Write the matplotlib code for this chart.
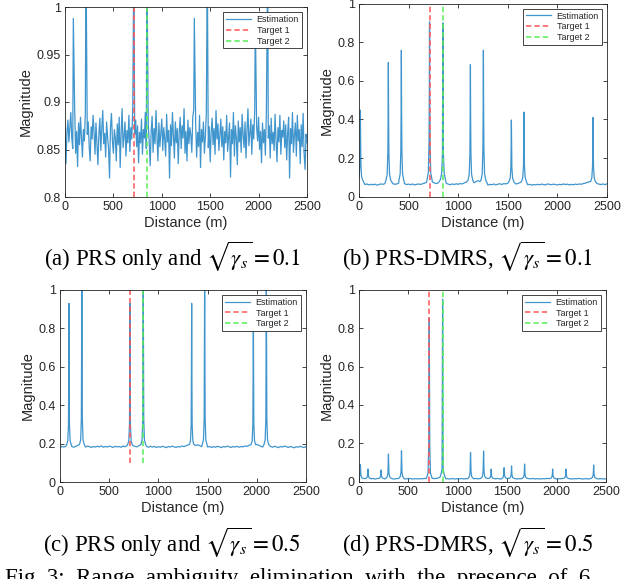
import numpy as np
import matplotlib.pyplot as plt
from matplotlib.ticker import FormatStrFormatter

plt.rcParams['font.family'] = ['Liberation Sans', 'DejaVu Sans']
plt.rcParams['mathtext.fontset'] = 'stix'

# ---------- DATA ----------
targets = [711, 846]
target_span = [(0.8, 1.0), (0.0, 1.0), (0.1, 1.0), (0.0, 1.0)]

# (a) PRS only, sqrt(gamma_s) = 0.1 : noisy floor sampled every 10 m
a_base = [
    0.872, 0.835, 0.868, 0.881, 0.858, 0.874, 0.889, 0.862, 0.851, 0.877,
    0.893, 0.846, 0.869, 0.832, 0.878, 0.855, 0.884, 0.864, 0.842, 0.871,
    0.859, 0.887, 0.848, 0.866, 0.879, 0.853, 0.838, 0.874, 0.861, 0.886,
    0.869, 0.845, 0.878, 0.857, 0.834, 0.866, 0.883, 0.849, 0.872, 0.891,
    0.856, 0.867, 0.842, 0.879, 0.863, 0.851, 0.820, 0.874, 0.888, 0.859,
    0.846, 0.871, 0.862, 0.838, 0.877, 0.855, 0.884, 0.831, 0.868, 0.893,
    0.852, 0.864, 0.879, 0.843, 0.870, 0.857, 0.886, 0.848, 0.873, 0.861,
    0.894, 0.839, 0.866, 0.881, 0.853, 0.875, 0.836, 0.868, 0.857, 0.882,
    0.845, 0.871, 0.862, 0.889, 0.851, 0.844, 0.877, 0.858, 0.833, 0.869,
    0.885, 0.847, 0.872, 0.856, 0.891, 0.864, 0.838, 0.878, 0.853, 0.867,
    0.882, 0.849, 0.873, 0.861, 0.843, 0.887, 0.858, 0.870, 0.820, 0.876,
    0.854, 0.889, 0.866, 0.841, 0.879, 0.857, 0.872, 0.835, 0.868, 0.884,
    0.851, 0.875, 0.862, 0.893, 0.846, 0.869, 0.838, 0.881, 0.856, 0.873,
    0.865, 0.847, 0.884, 0.892, 0.859, 0.877, 0.842, 0.868, 0.853, 0.886,
    0.831, 0.871, 0.858, 0.879, 0.846, 0.863, 0.889, 0.894, 0.852, 0.874,
    0.837, 0.868, 0.883, 0.855, 0.872, 0.845, 0.891, 0.861, 0.877, 0.849,
    0.866, 0.882, 0.853, 0.874, 0.839, 0.869, 0.857, 0.886, 0.848, 0.863,
    0.878, 0.821, 0.871, 0.856, 0.889, 0.843, 0.875, 0.862, 0.834, 0.880,
    0.858, 0.873, 0.847, 0.887, 0.865, 0.852, 0.879, 0.841, 0.870, 0.893,
    0.854, 0.867, 0.882, 0.845, 0.876, 0.861, 0.892, 0.838, 0.873, 0.859,
    0.884, 0.850, 0.869, 0.836, 0.878, 0.857, 0.871, 0.844, 0.888, 0.892,
    0.862, 0.875, 0.841, 0.883, 0.856, 0.868, 0.849, 0.887, 0.860, 0.837,
    0.873, 0.858, 0.886, 0.845, 0.870, 0.863, 0.880, 0.852, 0.876, 0.839,
    0.867, 0.884, 0.820, 0.872, 0.856, 0.889, 0.847, 0.865, 0.878, 0.843,
    0.886, 0.859, 0.871, 0.835, 0.876, 0.853, 0.888, 0.846, 0.829, 0.866,
    0.857,
]
a_peak_pos = [86, 217, 711, 846, 1336, 1470, 1966, 2094]
a_offsets = [0]
a_peak_shapes = [[0.988], [1.05], [1.05], [1.05], [0.988], [1.05], [0.988], [1.05]]

# (b) PRS-DMRS, sqrt(gamma_s) = 0.1 : floor sampled every 20 m
b_base = [
    0.080, 0.070, 0.066, 0.063, 0.066, 0.061, 0.064, 0.062, 0.065, 0.060,
    0.063, 0.066, 0.064, 0.067, 0.070, 0.075, 0.073, 0.068, 0.064, 0.066,
    0.070, 0.075, 0.072, 0.067, 0.063, 0.065, 0.062, 0.066, 0.061, 0.064,
    0.066, 0.063, 0.067, 0.070, 0.074, 0.078, 0.085, 0.076, 0.071, 0.068,
    0.072, 0.080, 0.090, 0.078, 0.069, 0.065, 0.062, 0.066, 0.063, 0.067,
    0.064, 0.068, 0.066, 0.071, 0.075, 0.080, 0.076, 0.070, 0.072, 0.078,
    0.083, 0.078, 0.070, 0.066, 0.063, 0.060, 0.064, 0.062, 0.066, 0.061,
    0.065, 0.067, 0.063, 0.068, 0.066, 0.070, 0.072, 0.075, 0.070, 0.066,
    0.068, 0.072, 0.076, 0.070, 0.065, 0.062, 0.064, 0.060, 0.063, 0.061,
    0.064, 0.062, 0.065, 0.063, 0.061, 0.066, 0.064, 0.062, 0.065, 0.063,
    0.061, 0.064, 0.062, 0.066, 0.063, 0.065, 0.061, 0.064, 0.062, 0.065,
    0.063, 0.066, 0.064, 0.068, 0.070, 0.074, 0.077, 0.080, 0.078, 0.072,
    0.068, 0.065, 0.063, 0.066, 0.062, 0.067,
]
b_peak_pos = [14, 296, 427, 711, 846, 1123, 1254, 1536, 1663, 2359]
b_offsets = [-24, -12, -5, -2, 0, 2, 5, 12, 24]
b_peak_shapes = [
    [0.085, 0.105, 0.170, 0.300, 0.448, 0.300, 0.170, 0.105, 0.085],
    [0.085, 0.115, 0.230, 0.450, 0.695, 0.450, 0.230, 0.115, 0.085],
    [0.086, 0.118, 0.245, 0.490, 0.758, 0.490, 0.245, 0.118, 0.086],
    [0.090, 0.125, 0.280, 0.560, 0.905, 0.560, 0.280, 0.125, 0.090],
    [0.090, 0.125, 0.220, 0.560, 0.900, 0.560, 0.220, 0.125, 0.090],
    [0.085, 0.115, 0.225, 0.440, 0.684, 0.440, 0.225, 0.115, 0.085],
    [0.086, 0.118, 0.245, 0.490, 0.758, 0.490, 0.245, 0.118, 0.086],
    [0.078, 0.098, 0.150, 0.270, 0.397, 0.270, 0.150, 0.098, 0.078],
    [0.079, 0.100, 0.160, 0.290, 0.438, 0.290, 0.160, 0.100, 0.079],
    [0.078, 0.098, 0.155, 0.275, 0.410, 0.275, 0.155, 0.098, 0.078],
]

# (c) PRS only, sqrt(gamma_s) = 0.5
c_base = [
    0.180, 0.186, 0.183, 0.188, 0.184, 0.190, 0.186, 0.182, 0.187, 0.192,
    0.195, 0.190, 0.186, 0.183, 0.188, 0.185, 0.181, 0.186, 0.183, 0.187,
    0.184, 0.189, 0.182, 0.186, 0.183, 0.188, 0.185, 0.181, 0.187, 0.184,
    0.186, 0.182, 0.188, 0.185, 0.190, 0.193, 0.196, 0.191, 0.187, 0.184,
    0.189, 0.193, 0.198, 0.191, 0.186, 0.182, 0.187, 0.183, 0.186, 0.181,
    0.185, 0.182, 0.187, 0.184, 0.180, 0.186, 0.183, 0.188, 0.184, 0.181,
    0.186, 0.183, 0.189, 0.185, 0.190, 0.194, 0.197, 0.192, 0.188, 0.191,
    0.195, 0.190, 0.185, 0.182, 0.187, 0.183, 0.186, 0.181, 0.185, 0.182,
    0.187, 0.184, 0.180, 0.186, 0.183, 0.188, 0.184, 0.181, 0.186, 0.183,
    0.187, 0.182, 0.186, 0.184, 0.189, 0.186, 0.192, 0.195, 0.190, 0.193,
    0.197, 0.192, 0.187, 0.183, 0.188, 0.184, 0.181, 0.186, 0.182, 0.187,
    0.184, 0.180, 0.186, 0.183, 0.188, 0.185, 0.181, 0.186, 0.183, 0.179,
    0.185, 0.182, 0.187, 0.183, 0.180, 0.186,
]
c_peak_pos = [91, 222, 711, 846, 1338, 1470, 1965, 2097]
c_offsets = [-24, -12, -5, -2, 0, 2, 5, 12, 24]
c_peak_shapes = [
    [0.195, 0.215, 0.300, 0.600, 0.929, 0.600, 0.300, 0.215, 0.195],
    [0.196, 0.220, 0.330, 0.700, 1.050, 0.700, 0.330, 0.220, 0.196],
    [0.195, 0.215, 0.300, 0.600, 0.929, 0.600, 0.300, 0.215, 0.195],
    [0.196, 0.220, 0.330, 0.700, 1.050, 0.700, 0.330, 0.220, 0.196],
    [0.195, 0.215, 0.300, 0.600, 0.929, 0.600, 0.300, 0.215, 0.195],
    [0.196, 0.220, 0.330, 0.700, 1.050, 0.700, 0.330, 0.220, 0.196],
    [0.195, 0.215, 0.300, 0.600, 0.929, 0.600, 0.300, 0.215, 0.195],
    [0.196, 0.220, 0.330, 0.700, 1.050, 0.700, 0.330, 0.220, 0.196],
]

# (d) PRS-DMRS, sqrt(gamma_s) = 0.5
d_base = [
    0.020, 0.017, 0.015, 0.016, 0.014, 0.016, 0.015, 0.017, 0.014, 0.016,
    0.015, 0.017, 0.016, 0.014, 0.016, 0.015, 0.017, 0.015, 0.014, 0.016,
    0.017, 0.015, 0.016, 0.014, 0.015, 0.017, 0.016, 0.014, 0.015, 0.016,
    0.014, 0.016, 0.015, 0.017, 0.016, 0.018, 0.020, 0.018, 0.016, 0.017,
    0.019, 0.021, 0.019, 0.017, 0.015, 0.016, 0.014, 0.016, 0.015, 0.014,
    0.016, 0.015, 0.017, 0.014, 0.016, 0.015, 0.014, 0.016, 0.015, 0.017,
    0.015, 0.016, 0.014, 0.016, 0.015, 0.017, 0.016, 0.014, 0.016, 0.015,
    0.017, 0.015, 0.014, 0.016, 0.015, 0.017, 0.016, 0.014, 0.015, 0.016,
    0.014, 0.016, 0.015, 0.017, 0.015, 0.014, 0.016, 0.015, 0.017, 0.014,
    0.016, 0.015, 0.014, 0.016, 0.015, 0.017, 0.016, 0.014, 0.015, 0.016,
    0.014, 0.016, 0.015, 0.017, 0.015, 0.014, 0.016, 0.015, 0.014, 0.016,
    0.015, 0.017, 0.016, 0.014, 0.015, 0.016, 0.014, 0.016, 0.015, 0.017,
    0.015, 0.014, 0.016, 0.015, 0.014, 0.016,
]
d_peak_pos = [14, 91, 223, 298, 430, 711, 846, 1129, 1261, 1338, 1469, 1544,
              1676, 1960, 2095, 2375]
d_offsets = [-24, -12, -5, -2, 0, 2, 5, 12, 24]
d_peak_shapes = [
    [0.018, 0.022, 0.035, 0.060, 0.090, 0.060, 0.035, 0.022, 0.018],
    [0.017, 0.020, 0.030, 0.045, 0.066, 0.045, 0.030, 0.020, 0.017],
    [0.017, 0.020, 0.029, 0.042, 0.061, 0.042, 0.029, 0.020, 0.017],
    [0.019, 0.026, 0.048, 0.095, 0.144, 0.095, 0.048, 0.026, 0.019],
    [0.019, 0.027, 0.052, 0.105, 0.161, 0.105, 0.052, 0.027, 0.019],
    [0.025, 0.045, 0.200, 0.520, 0.851, 0.520, 0.200, 0.045, 0.025],
    [0.025, 0.048, 0.070, 0.560, 0.950, 0.560, 0.070, 0.048, 0.025],
    [0.019, 0.026, 0.050, 0.100, 0.151, 0.100, 0.050, 0.026, 0.019],
    [0.019, 0.027, 0.052, 0.105, 0.160, 0.105, 0.052, 0.027, 0.019],
    [0.017, 0.020, 0.030, 0.045, 0.066, 0.045, 0.030, 0.020, 0.017],
    [0.017, 0.021, 0.032, 0.049, 0.073, 0.049, 0.032, 0.021, 0.017],
    [0.018, 0.021, 0.034, 0.055, 0.082, 0.055, 0.034, 0.021, 0.018],
    [0.018, 0.022, 0.036, 0.061, 0.092, 0.061, 0.036, 0.022, 0.018],
    [0.017, 0.020, 0.030, 0.045, 0.066, 0.045, 0.030, 0.020, 0.017],
    [0.017, 0.020, 0.030, 0.045, 0.066, 0.045, 0.030, 0.020, 0.017],
    [0.018, 0.022, 0.035, 0.058, 0.087, 0.058, 0.035, 0.022, 0.018],
]

captions = [
    r'(a) PRS only and $\sqrt{\gamma_s} = 0.1$',
    r'(b) PRS-DMRS, $\sqrt{\gamma_s} = 0.1$',
    r'(c) PRS only and $\sqrt{\gamma_s} = 0.5$',
    r'(d) PRS-DMRS, $\sqrt{\gamma_s} = 0.5$',
]
fig_caption = 'Fig. 3:  Range  ambiguity  elimination  with  the  presence  of  6'
x_ticks = [0, 500, 1000, 1500, 2000, 2500]
y_ticks_a = [0.8, 0.85, 0.9, 0.95, 1.0]
y_ticks = [0, 0.2, 0.4, 0.6, 0.8, 1.0]
# --------------------------

W, H = 640, 579
GRAY = '#262626'
EST_COLOR = '#0072BD'


def build_curve(base, peak_pos, offsets, shapes, window):
    bx = np.linspace(0, 2500, len(base))
    by = np.array(base)
    keep = np.ones(len(bx), bool)
    for p in peak_pos:
        keep &= np.abs(bx - p) > window
    xs, ys = [bx[keep]], [by[keep]]
    for p, s in zip(peak_pos, shapes):
        xs.append(p + np.array(offsets, float))
        ys.append(np.array(s))
    x = np.concatenate(xs)
    y = np.concatenate(ys)
    order = np.argsort(x)
    return x[order], y[order]


panels = [
    (a_base, a_peak_pos, a_offsets, a_peak_shapes, 5, (0.8, 1.0), y_ticks_a),
    (b_base, b_peak_pos, b_offsets, b_peak_shapes, 26, (0, 1.0), y_ticks),
    (c_base, c_peak_pos, c_offsets, c_peak_shapes, 26, (0, 1.0), y_ticks),
    (d_base, d_peak_pos, d_offsets, d_peak_shapes, 26, (0, 1.0), y_ticks),
]
# axes boxes in pixels: left, top, right, bottom
boxes = [(65, 7, 307, 197), (359, 3.5, 607, 196.7),
         (60, 289.7, 306, 482.3), (359, 289.7, 606, 481.7)]
cap_pos = [(172, 257), (468, 257), (172, 543), (468, 543)]

fig = plt.figure(figsize=(W / 100, H / 100), dpi=100)

for i, (base, pos, offs, shapes, win, ylim, yt) in enumerate(panels):
    l, t, r, b = boxes[i]
    ax = fig.add_axes([l / W, 1 - b / H, (r - l) / W, (b - t) / H])
    x, y = build_curve(base, pos, offs, shapes, win)
    ax.plot(x, y, color=EST_COLOR, lw=0.9, alpha=0.75, label='Estimation')
    lo, hi = target_span[i]
    ax.plot([targets[0]] * 2, [lo, hi], color='#ff5555', lw=1.1,
            dashes=(3.5, 2), label='Target 1')
    ax.plot([targets[1]] * 2, [lo, hi], color='#55ee55', lw=1.1,
            dashes=(3.5, 2), label='Target 2')
    ax.set_xlim(0, 2500)
    ax.set_ylim(*ylim)
    ax.set_xticks(x_ticks)
    ax.set_yticks(yt)
    ax.yaxis.set_major_formatter(FormatStrFormatter('%g'))
    ax.tick_params(direction='in', top=True, right=True, length=3,
                   width=0.6, labelsize=9, colors=GRAY, pad=3)
    for sp in ax.spines.values():
        sp.set_linewidth(0.6)
        sp.set_color(GRAY)
    ax.set_xlabel('Distance (m)', fontsize=10.5, color=GRAY, labelpad=2)
    ax.set_ylabel('Magnitude', fontsize=10.5, color=GRAY, labelpad=3)
    leg = ax.legend(loc='upper right', fontsize=6.5, handlelength=2.8,
                    fancybox=False, edgecolor=GRAY, framealpha=1,
                    borderaxespad=0.6, labelspacing=0.2, borderpad=0.3,
                    handletextpad=0.6)
    leg.get_frame().set_linewidth(0.6)
    for txt in leg.get_texts():
        txt.set_color(GRAY)

    cx, cy = cap_pos[i]
    fig.text(cx / W, 1 - cy / H, captions[i], ha='center', va='center',
             fontsize=16.5, family='Liberation Serif')

fig.text(5 / W, 1 - 584 / H, fig_caption, ha='left', va='baseline',
         fontsize=16.5, family='Liberation Serif')

fig.savefig('out.png', dpi=100)
